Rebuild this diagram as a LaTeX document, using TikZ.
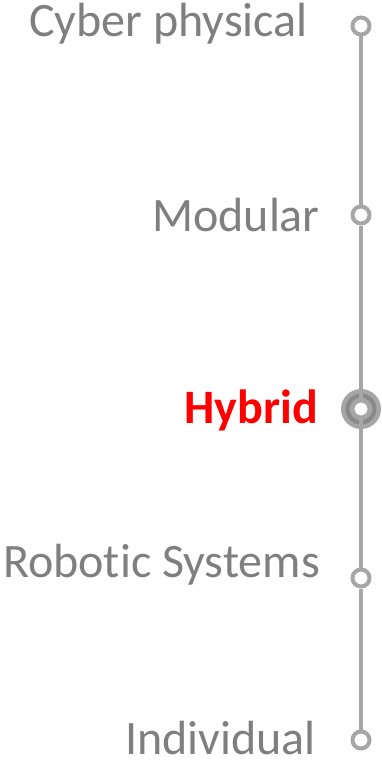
\documentclass[tikz,border=0pt]{standalone}
\usepackage{fontspec}
\setmainfont{Carlito}[Ligatures=NoCommon]
\usepackage{tikz}
\usetikzlibrary{positioning}
\definecolor{railgray}{RGB}{166,166,166}
\definecolor{ringgray}{RGB}{137,137,137}
\definecolor{textgray}{RGB}{127,127,127}
\definecolor{hotred}{RGB}{255,0,0}

\begin{document}
\begin{tikzpicture}[x=1pt, y=-1pt,
    milestone/.style={circle, draw=railgray, fill=white, line width=4pt, minimum size=17pt, inner sep=0pt},
    rail/.style={draw=railgray, line width=4.5pt},
    lbl/.style={anchor=base east, inner sep=0pt, font=\fontsize{48}{50}\selectfont, text=textgray},
]
    \useasboundingbox (0,0) rectangle (382,760);

    % highlight behind the current level
    \coordinate (hybpos) at (361,409);
    \fill[railgray] (hybpos) circle (20pt);
    \draw[ringgray, line width=4pt] (hybpos) circle (13.5pt);

    \node[milestone] (cyber) at (361,26) {};
    \node[milestone] (modular) at (361,215) {};
    \node[milestone] (hybrid) at (hybpos) {};
    \node[milestone] (robotic) at (361,578) {};
    \node[milestone] (indiv) at (361,740) {};

    \draw[rail] (cyber) -- (modular) -- (hybrid) -- (robotic) -- (indiv);

    \node[lbl] (cyberlbl) at (308,37) {Cyber physical};
    \node[lbl] (modularlbl) at (320,231) {Modular};
    \node[lbl, text=hotred, font=\fontsize{48}{50}\selectfont\bfseries] (hybridlbl) at (318,423) {Hybrid};
    \node[lbl] (roboticlbl) at (320,577) {Robotic Systems};
    \node[lbl] (indivlbl) at (316,754) {Individual};
\end{tikzpicture}
\end{document}
